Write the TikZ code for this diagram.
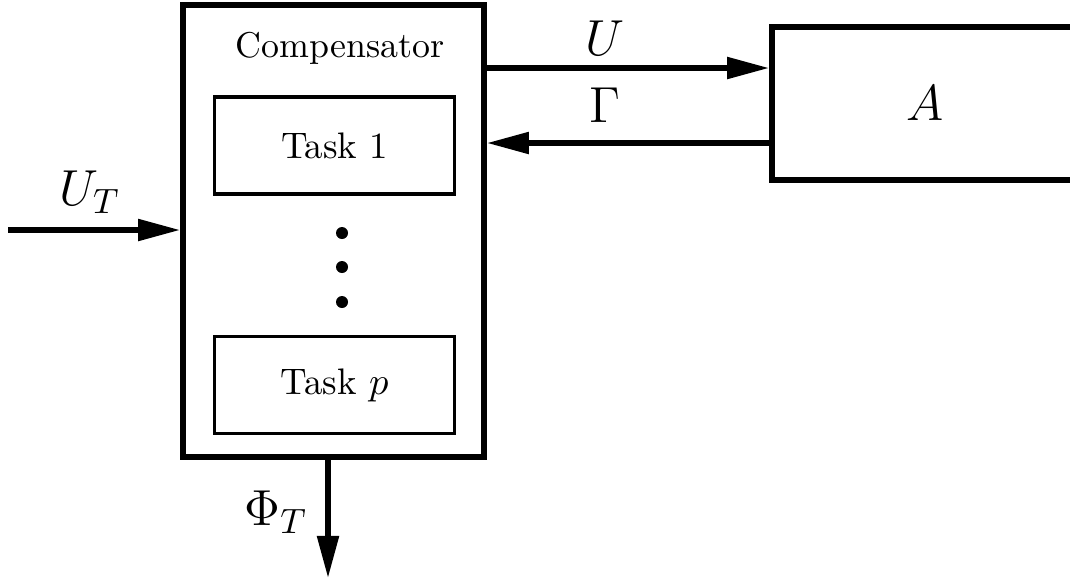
\documentclass[tikz,border=0pt]{standalone}
\usepackage{amsmath,amssymb}
\usepackage{tikz}
\usetikzlibrary{arrows.meta}

\begin{document}
\begin{tikzpicture}[x=0.01cm,y=-0.01cm,
    sig/.style={line width=1.5pt,-{Triangle[length=4.2mm,width=2.1mm]}},
    outerbox/.style={draw,line width=1.6pt,inner sep=0pt},
    taskbox/.style={draw,line width=1pt,minimum width=2.40cm,minimum height=0.97cm,font=\fontsize{10.5}{12}\selectfont},
    lbl/.style={font=\fontsize{14}{16}\selectfont}]
  \useasboundingbox (0,0) rectangle (1070,581);
  \node[outerbox,minimum width=3.01cm,minimum height=4.52cm] (comp) at (333.5,231) {};
  \node[font=\fontsize{10.2}{12}\selectfont] (title) at (340,48) {Compensator};
  \node[taskbox] (task1) at (334.5,145.5) {Task 1};
  \node[taskbox] (taskp) at (334.5,385) {Task $p$};
  \foreach \y in {233,267,302} {
    \fill (342,\y) circle (0.06cm);
  }
  \node[outerbox,minimum width=3.06cm,minimum height=1.53cm] (plant) at (925,103.5) {};
  \node[lbl] (a) at (925,103) {$A$};
  \coordinate (in) at (8,230);
  \coordinate (out) at (328,578);
  \draw[sig] (in) -- (in -| comp.west);
  \draw[sig] (comp.east |- 0,68) -- (plant.west |- 0,68);
  \draw[sig] (plant.west |- 0,143) -- (comp.east |- 0,143);
  \draw[sig] (out |- comp.south) -- (out);
  \node[lbl] (ulbl) at (605,38) {$U$};
  \node[lbl] (glbl) at (605,105) {$\Gamma$};
  \node[lbl] (utlbl) at (90,192) {$U_T$};
  \node[lbl] (philbl) at (276,512) {$\Phi_T$};
\end{tikzpicture}
\end{document}
